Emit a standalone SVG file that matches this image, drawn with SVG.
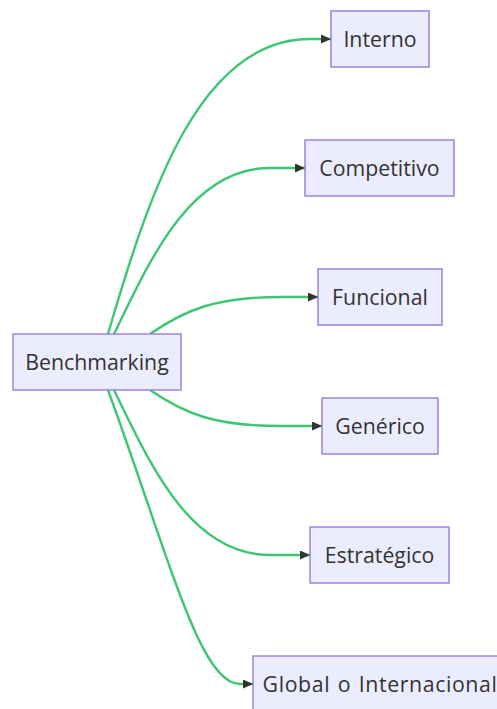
<svg xmlns="http://www.w3.org/2000/svg" width="497" height="709" viewBox="0 0 497 709">
<defs>
<style>
.node rect{fill:#ECECFF;stroke:#9370DB;stroke-width:1.3}
.node text{font-family:"Open Sans","Noto Sans","Liberation Sans",sans-serif;font-size:21.3px;fill:#333;text-anchor:middle}
.edge{fill:none;stroke:#3dc774;stroke-width:2.4;marker-end:url(#arrow)}
</style>
<marker id="arrow" markerUnits="userSpaceOnUse" viewBox="0 0 10 9" refX="10" refY="4.5" markerWidth="10" markerHeight="9" orient="auto">
<path d="M0,0 L10,4.5 L0,9 z" fill="#333"/>
</marker>
</defs>
<rect width="497" height="709" fill="#fff"/>
<g id="connectors">
<path class="edge" d="M108,334 C150,190 200,39 310,39 L331,39"/>
<path class="edge" d="M114,334 C150,260 190,168 270,168 L305,168"/>
<path class="edge" d="M150,334 C185,310 215,297 280,297 L318,297"/>
<path class="edge" d="M150,390 C185,414 215,426 280,426 L322,426"/>
<path class="edge" d="M114,390 C150,464 190,555 270,555 L310,555"/>
<path class="edge" d="M108,390 C170,560 200,684 240,684 L253,684"/>
</g>
<g id="Benchmarking" class="node"><rect x="13" y="334" width="168" height="56"/><text x="97" y="370">Benchmarking</text></g>
<g id="Interno" class="node"><rect x="331" y="11" width="98" height="56"/><text x="380" y="47">Interno</text></g>
<g id="Competitivo" class="node"><rect x="305" y="140" width="149" height="56"/><text x="379.5" y="176">Competitivo</text></g>
<g id="Funcional" class="node"><rect x="318" y="269" width="124" height="56"/><text x="380" y="305">Funcional</text></g>
<g id="Generico" class="node"><rect x="322" y="398" width="116" height="56"/><text x="380" y="434">Genérico</text></g>
<g id="Estrategico" class="node"><rect x="310" y="527" width="139" height="56"/><text x="379.5" y="563">Estratégico</text></g>
<g id="Global" class="node"><rect x="253" y="656" width="254" height="56"/><text x="380" y="692" style="word-spacing:1.5px;letter-spacing:0.6px">Global o Internacional</text></g>
</svg>
